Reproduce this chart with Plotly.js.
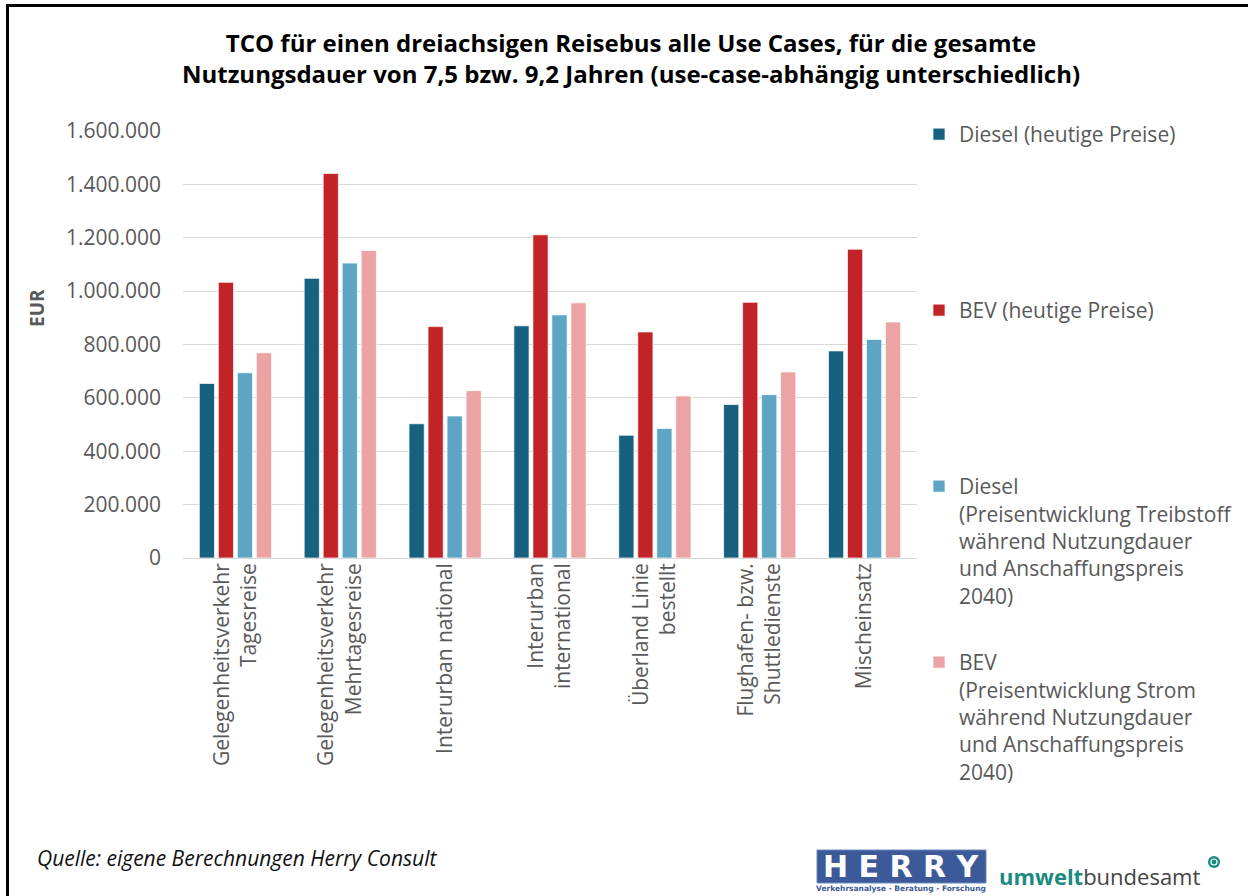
<!DOCTYPE html>
<html>
<head>
<meta charset="utf-8">
<script src="https://cdn.plot.ly/plotly-3.0.1.min.js"></script>
<style>
  html, body { margin: 0; padding: 0; background: #ffffff; }
  #chart { width: 1248px; height: 896px; }
</style>
</head>
<body>
<div id="chart"></div>
<script>
// ---- Data ----
const categories = [
  "Gelegenheitsverkehr<br>Tagesreise",
  "Gelegenheitsverkehr<br>Mehrtagesreise",
  "Interurban national",
  "Interurban<br>international",
  "Überland Linie<br>bestellt",
  "Flughafen- bzw.<br>Shuttledienste",
  "Mischeinsatz"
];
const seriesNames = [
  "Diesel (heutige Preise)",
  "BEV (heutige Preise)",
  "Diesel<br>(Preisentwicklung Treibstoff<br>während Nutzungdauer<br>und Anschaffungspreis<br>2040)",
  "BEV<br>(Preisentwicklung Strom<br>während Nutzungdauer<br>und Anschaffungspreis<br>2040)"
];
const dieselToday  = [654000, 1048000, 503000, 870000, 460000, 575000, 776000];
const bevToday     = [1033000, 1441000, 867000, 1211000, 847000, 958000, 1157000];
const dieselFuture = [694000, 1105000, 532000, 911000, 485000, 612000, 819000];
const bevFuture    = [769000, 1152000, 627000, 956000, 607000, 697000, 884000];
const yTickValues  = [0, 200000, 400000, 600000, 800000, 1000000, 1200000, 1400000, 1600000];

// ---- Layout geometry ----
const W = 1248, H = 896;
const M = { l: 183, r: 331, t: 131, b: 338 };
const PW = W - M.l - M.r, PH = H - M.t - M.b;
const px = v => (v - M.l) / PW;      // pixel x -> paper x
const py = v => (H - M.b - v) / PH;  // pixel y -> paper y

const colors = ["#17607F", "#C22326", "#5DA4C5", "#ECA3A3"];
const values = [dieselToday, bevToday, dieselFuture, bevFuture];
const legendIds = ["legend", "legend2", "legend3", "legend4"];

const traces = values.map((vals, i) => ({
  type: "bar",
  name: seriesNames[i],
  x: categories,
  y: vals,
  marker: { color: colors[i], line: { color: "rgba(255,255,255,0.7)", width: 1 } },
  legend: legendIds[i],
  showlegend: true,
  hoverinfo: "x+y+name"
}));

const font = "Open Sans, Noto Sans, sans-serif";
const legendFont = { family: font, size: 21, color: "#595959" };
const legendTops = [114, 290, 466, 642];
const legendCommon = (top) => ({
  visible: true,
  xref: "container", yref: "container",
  x: 919 / W, y: 1 - top / H,
  xanchor: "left", yanchor: "top",
  font: legendFont, bgcolor: "rgba(0,0,0,0)",
  valign: "top", itemwidth: 30
});

const layout = {
  width: W, height: H,
  margin: M,
  showlegend: true,
  paper_bgcolor: "#ffffff",
  plot_bgcolor: "#ffffff",
  separators: ",.",
  font: { family: font, color: "#595959" },
  barmode: "group",
  bargap: 0.275,
  bargroupgap: 0.2,
  title: {
    text: "<b>TCO für einen dreiachsigen Reisebus alle Use Cases, für die gesamte<br>Nutzungsdauer von 7,5 bzw. 9,2 Jahren (use-case-abhängig unterschiedlich)</b>",
    font: { family: font, size: 24, color: "#000000" },
    xref: "container", yref: "container",
    x: 631 / W, xanchor: "center",
    y: 1 - 52 / H, yanchor: "middle"
  },
  xaxis: {
    type: "category",
    tickangle: -90,
    tickfont: { family: font, size: 21, color: "#595959" },
    showgrid: false,
    showline: false,
    ticks: "",
    automargin: false
  },
  yaxis: {
    range: [0, 1600000],
    tickvals: yTickValues,
    tickformat: ",d",
    tickfont: { family: font, size: 21, color: "#595959" },
    gridcolor: "#D9D9D9",
    gridwidth: 1.3,
    zeroline: true,
    zerolinecolor: "#D9D9D9",
    zerolinewidth: 1.3,
    showline: false,
    ticks: "",
    ticklabelstandoff: 21,
    automargin: false
  },
  legend:  legendCommon(legendTops[0]),
  legend2: legendCommon(legendTops[1]),
  legend3: legendCommon(legendTops[2]),
  legend4: legendCommon(legendTops[3]),
  annotations: [
    {
      text: "<b>EUR</b>", textangle: -90,
      xref: "paper", yref: "paper", x: px(37), y: py(308),
      xanchor: "center", yanchor: "middle",
      showarrow: false, font: { family: font, size: 19, color: "#595959" }
    },
    {
      text: "<i>Quelle: eigene Berechnungen Herry Consult</i>",
      xref: "paper", yref: "paper", x: px(35), y: py(858),
      xanchor: "left", yanchor: "middle",
      showarrow: false, font: { family: font, size: 21, color: "#111111" }
    },
    {
      text: "<b>H E R R Y</b>",
      xref: "paper", yref: "paper", x: px(901), y: py(866),
      xanchor: "center", yanchor: "middle",
      showarrow: false, font: { family: "DejaVu Sans, sans-serif", size: 30, color: "#ffffff" }
    },
    {
      text: "<b>Verkehrsanalyse - Beratung - Forschung</b>",
      xref: "paper", yref: "paper", x: px(901), y: py(888),
      xanchor: "center", yanchor: "middle",
      showarrow: false, font: { family: "DejaVu Sans, sans-serif", size: 7.5, color: "#3C5A99" }
    },
    {
      text: "<b><span style=\"color:#1B8A80\">umwelt</span></b>bundesamt",
      xref: "paper", yref: "paper", x: px(997), y: py(876),
      xanchor: "left", yanchor: "middle",
      showarrow: false, font: { family: font, size: 22, color: "#444444" }
    }
  ],
  shapes: [
    {
      type: "path", xref: "paper", yref: "paper",
      path: `M ${px(7.5)} ${py(900)} L ${px(7.5)} ${py(5.5)} L ${px(1252)} ${py(5.5)}`,
      line: { color: "#000000", width: 3 }
    },
    {
      type: "rect", xref: "paper", yref: "paper",
      x0: px(817), x1: px(986), y0: py(883), y1: py(850),
      fillcolor: "#3C5A99", line: { color: "#6F88BC", width: 1 }
    },
    {
      type: "circle", xref: "paper", yref: "paper",
      x0: px(1208), x1: px(1220), y0: py(868), y1: py(856),
      fillcolor: "#1B8A80", line: { width: 0 }
    },
    {
      type: "circle", xref: "paper", yref: "paper",
      x0: px(1211), x1: px(1217), y0: py(865), y1: py(859),
      fillcolor: "rgba(0,0,0,0)", line: { color: "#ffffff", width: 1.2 }
    }
  ]
};

Plotly.newPlot("chart", traces, layout, { displayModeBar: false, responsive: false });
</script>
</body>
</html>
